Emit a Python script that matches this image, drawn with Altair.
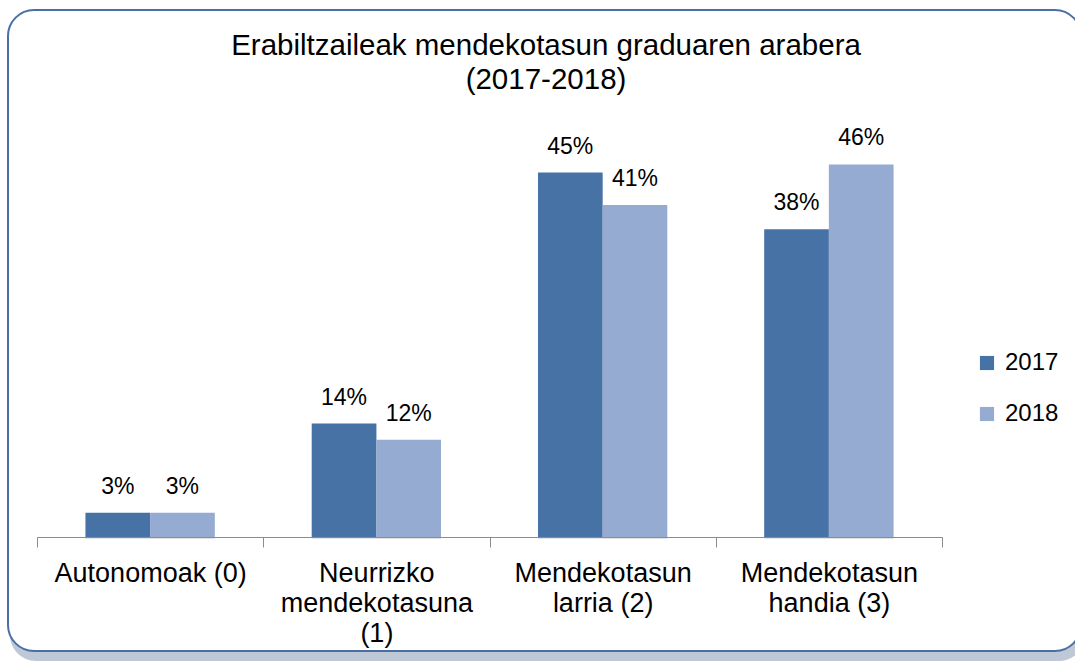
import altair as alt
import pandas as pd

categories = ["Autonomoak (0)", "Neurrizko|mendekotasuna|(1)", "Mendekotasun|larria (2)", "Mendekotasun|handia (3)"]
years = ["2017", "2018"]
values_2017 = [3, 14, 45, 38]
values_2018 = [3, 12, 41, 46]
title_lines = ["Erabiltzaileak mendekotasun graduaren arabera", "(2017-2018)"]

rows = []
for c, a, b in zip(categories, values_2017, values_2018):
    rows.append({"cat": c, "year": "2017", "value": a, "label": f"{a}%"})
    rows.append({"cat": c, "year": "2018", "value": b, "label": f"{b}%"})
df = pd.DataFrame(rows)

FONT = "Liberation Sans"
W, H = 905, 405
PL, PT = 37, 132

x_enc = alt.X("cat:N", sort=categories, title=None,
              scale=alt.Scale(paddingInner=0, paddingOuter=0),
              axis=alt.Axis(labelAngle=0, labelExpr="split(datum.label, '|')",
                            tickBand="extent", tickSize=10, domainColor="#8c8c8c",
                            tickColor="#8c8c8c", labelFont=FONT, labelFontSize=27,
                            labelColor="#000000", labelPadding=13, labelLineHeight=30,
                            labelLimit=400, zindex=2))
xo = alt.XOffset("year:N", scale=alt.Scale(paddingOuter=0.75, paddingInner=0))
y_enc = alt.Y("value:Q", scale=alt.Scale(domain=[0, 50]), axis=None)
color = alt.Color("year:N", scale=alt.Scale(domain=years, range=["#4672A6", "#95ABD2"]),
                  legend=alt.Legend(title=None, orient="none", legendX=938, legendY=219,
                                    symbolType="square", symbolSize=200, symbolStrokeWidth=0,
                                    labelFont=FONT, labelFontSize=24, labelColor="#000000",
                                    rowPadding=27, labelOffset=6, zindex=2))

base = alt.Chart(df)

shadow = base.mark_bar(xOffset=4, yOffset=2, color="#d0d0d0", opacity=0.6).encode(
    x=x_enc, xOffset=xo, y=y_enc)
bars = base.mark_bar().encode(x=x_enc, xOffset=xo, y=y_enc, color=color)
text = base.mark_text(dy=-26, font=FONT, fontSize=23, color="#000000").encode(
    x=x_enc, xOffset=xo, y=y_enc, text="label:N")

frame_df = pd.DataFrame({"k": [1]})
frame_shadow = alt.Chart(frame_df).mark_rect(cornerRadius=26, fill="#6f84a3", opacity=0.45).encode(
    x=alt.value(8 - PL + 2), x2=alt.value(1075 - PL + 10), y=alt.value(10 - PT + 6), y2=alt.value(661 - PT))
frame_fill = alt.Chart(frame_df).mark_rect(cornerRadius=26, fill="#ffffff", stroke="#4a6fa3", strokeWidth=2).encode(
    x=alt.value(8 - PL), x2=alt.value(1075 - PL + 6), y=alt.value(10 - PT), y2=alt.value(651 - PT))

title_df = pd.DataFrame({"t": [title_lines]})
title = alt.Chart(title_df).mark_text(font=FONT, fontSize=29.5, color="#000000", lineHeight=34,
                                     baseline="top", align="center").encode(
    x=alt.value(546 - PL), y=alt.value(32 - PT), text="t")

chart = alt.layer(frame_shadow, frame_fill, shadow, bars, text, title).properties(
    width=W, height=H,
    autosize=alt.AutoSizeParams(type="none"),
    padding={"left": PL, "top": PT, "right": 1075 - PL - W, "bottom": 662 - PT - H},
).configure_view(stroke=None).configure(background="#ffffff")

chart.save("out.html", embed_options={"renderer": "svg", "actions": False})
